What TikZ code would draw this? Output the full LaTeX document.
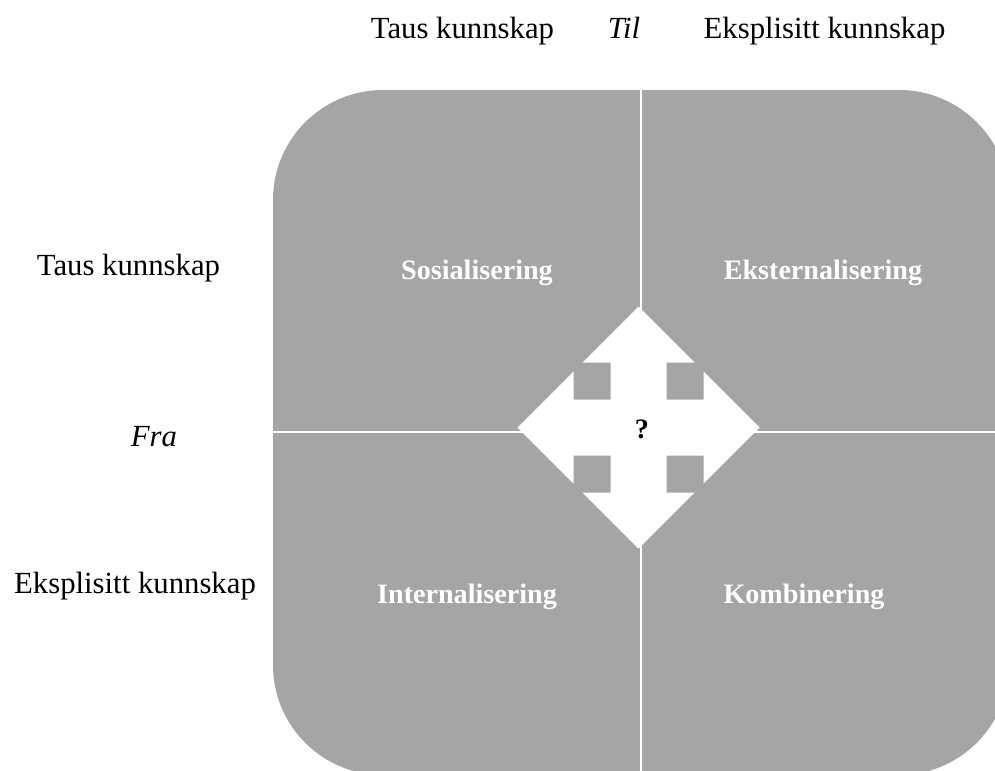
\documentclass[tikz,border=0pt]{standalone}
\usepackage{fontspec}
\setmainfont{Liberation Serif}
\usepackage{tikz}
\usepackage{xcolor}
\definecolor{boxgray}{RGB}{165,165,165}

\begin{document}
\begin{tikzpicture}[x=0.02cm,y=-0.02cm,
    axislabel/.style={font=\fontsize{17.5}{20}\selectfont, anchor=base, inner sep=0pt},
    modelabel/.style={font=\fontsize{16}{19}\selectfont\bfseries, text=white, anchor=base, inner sep=0pt},
    divider/.style={white, line width=1.2pt}]
    \useasboundingbox (0,0) rectangle (995,771);
    \clip (0,0) rectangle (995,771);
    % \draw[red] (0,0) rectangle (995,771);
    \coordinate (NW) at (273,90);
    \coordinate (SE) at (1009,775);
    \coordinate (N) at (641,90);
    \coordinate (S) at (641,775);
    \coordinate (W) at (273,432);
    \coordinate (E) at (1009,432);
    \coordinate (C) at (638.5,427.5);
    \fill[boxgray, rounded corners=2.2cm] (NW) rectangle (SE);
    \draw[divider] (N) -- (S) (W) -- (E);
    \foreach \angle in {0,90,180,270}
      \fill[white, shift={(C)}, rotate=\angle] (-28,0) -- (-28,-65) -- (-56,-65) -- (0,-121)
        -- (56,-65) -- (28,-65) -- (28,0) -- cycle;
    \node[modelabel, text=black] (query) at (642,438) {?};
    \node[axislabel] (tausTil) at (462.5,38) {Taus kunnskap};
    \node[axislabel] (til) at (624,38) {\itshape Til};
    \node[axislabel] (eksplTil) at (824.5,38) {Eksplisitt kunnskap};
    \node[axislabel] (tausFra) at (128.5,275) {Taus kunnskap};
    \node[axislabel] (fra) at (154,446) {\itshape Fra};
    \node[axislabel] (eksplFra) at (135,593) {Eksplisitt kunnskap};
    \node[modelabel] (sosial) at (477,279) {Sosialisering};
    \node[modelabel] (ekstern) at (823,279) {Eksternalisering};
    \node[modelabel] (intern) at (467,603) {Internalisering};
    \node[modelabel] (kombin) at (804,603) {Kombinering};
\end{tikzpicture}
\end{document}
